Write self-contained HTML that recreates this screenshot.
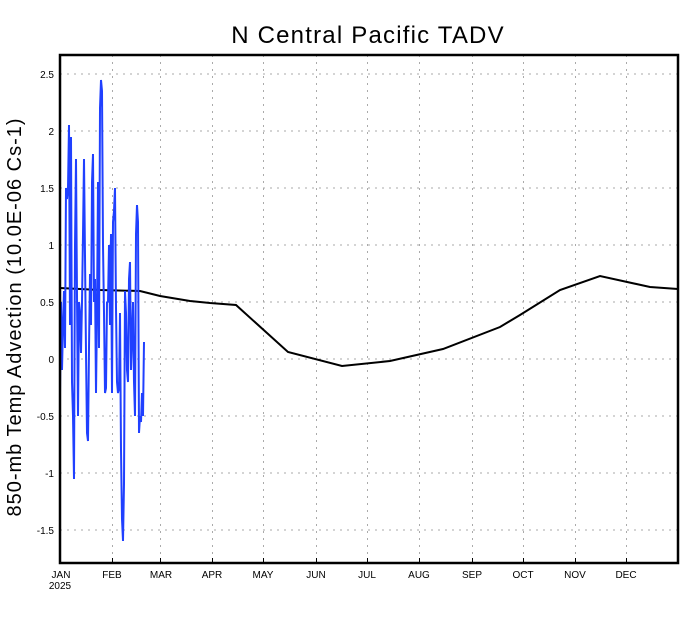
<!DOCTYPE html>
<html><head><meta charset="utf-8"><style>
body{margin:0;background:#fff;}
svg{display:block;font-family:"Liberation Sans","DejaVu Sans",sans-serif;}
</style></head><body>
<svg width="690" height="618" viewBox="0 0 690 618" xmlns="http://www.w3.org/2000/svg">
<rect width="690" height="618" fill="#fff"/>
<g stroke="#aaa" stroke-width="1" stroke-dasharray="2,5">
<line x1="60" y1="74" x2="678" y2="74"/><line x1="60" y1="131" x2="678" y2="131"/>
<line x1="60" y1="188" x2="678" y2="188"/><line x1="60" y1="245" x2="678" y2="245"/>
<line x1="60" y1="302" x2="678" y2="302"/><line x1="60" y1="359" x2="678" y2="359"/>
<line x1="60" y1="416" x2="678" y2="416"/><line x1="60" y1="473" x2="678" y2="473"/>
<line x1="60" y1="530" x2="678" y2="530"/>
<line x1="112.5" y1="55" x2="112.5" y2="563"/><line x1="160.5" y1="55" x2="160.5" y2="563"/>
<line x1="212.5" y1="55" x2="212.5" y2="563"/><line x1="263.5" y1="55" x2="263.5" y2="563"/>
<line x1="316.5" y1="55" x2="316.5" y2="563"/><line x1="367.5" y1="55" x2="367.5" y2="563"/>
<line x1="419.5" y1="55" x2="419.5" y2="563"/><line x1="472.5" y1="55" x2="472.5" y2="563"/>
<line x1="523.5" y1="55" x2="523.5" y2="563"/><line x1="575.5" y1="55" x2="575.5" y2="563"/>
<line x1="626.5" y1="55" x2="626.5" y2="563"/>
</g>
<polyline fill="none" stroke="#000" stroke-width="2" points="60,288 100,290 140,291 160,296 190,301 210,303 236,305 288,352 342,366 390,361 443,349 500,327 520,315 560,290 600,276 650,287 678,289"/>
<polyline fill="none" stroke="#2040ff" stroke-width="2" stroke-linejoin="bevel" points="60,393 61,302 62,370 63,325 64,291 65,348 66,188 67,199 68,188 69,125 70,325 71,137 72,382 73,416 74,479 75,245 76,159 77,296 78,416 79,302 80,313 81,353 82,302 83,234 84,159 85,256 86,353 87,433 88,441 89,348 90,274 91,325 92,182 93,154 94,302 95,279 96,393 97,313 98,182 99,348 100,108 101,80 102,91 103,245 104,313 105,393 106,388 107,302 108,302 109,245 110,325 111,234 112,393 113,222 114,211 115,188 116,308 117,382 118,393 119,388 120,313 121,450 122,519 123,541 124,484 125,291 126,313 127,370 128,382 129,279 130,262 131,370 132,336 133,302 134,382 135,416 136,234 137,205 138,222 139,433 140,416 141,422 142,393 143,416 144,342"/>
<rect x="60" y="55" width="618" height="508" fill="none" stroke="#000" stroke-width="2.5"/>
<g stroke="#000" stroke-width="1">
<line x1="112.5" y1="563" x2="112.5" y2="558"/><line x1="160.5" y1="563" x2="160.5" y2="558"/>
<line x1="212.5" y1="563" x2="212.5" y2="558"/><line x1="263.5" y1="563" x2="263.5" y2="558"/>
<line x1="316.5" y1="563" x2="316.5" y2="558"/><line x1="367.5" y1="563" x2="367.5" y2="558"/>
<line x1="419.5" y1="563" x2="419.5" y2="558"/><line x1="472.5" y1="563" x2="472.5" y2="558"/>
<line x1="523.5" y1="563" x2="523.5" y2="558"/><line x1="575.5" y1="563" x2="575.5" y2="558"/>
<line x1="626.5" y1="563" x2="626.5" y2="558"/>
</g>
<g font-size="10" text-anchor="end" fill="#000">
<text x="54" y="78">2.5</text><text x="54" y="135">2</text><text x="54" y="192">1.5</text>
<text x="54" y="249">1</text><text x="54" y="306">0.5</text><text x="54" y="363">0</text>
<text x="54" y="420">-0.5</text><text x="54" y="477">-1</text><text x="54" y="534">-1.5</text>
</g>
<g font-size="10" text-anchor="middle" fill="#000">
<text x="61" y="578">JAN</text><text x="60" y="589">2025</text>
<text x="112" y="578">FEB</text><text x="161" y="578">MAR</text><text x="212" y="578">APR</text>
<text x="263" y="578">MAY</text><text x="316" y="578">JUN</text><text x="367" y="578">JUL</text>
<text x="419" y="578">AUG</text><text x="472" y="578">SEP</text><text x="523" y="578">OCT</text>
<text x="575" y="578">NOV</text><text x="626" y="578">DEC</text>
</g>
<text x="368" y="43" font-size="24" letter-spacing="1.2" text-anchor="middle" fill="#000">N Central Pacific TADV</text>
<text transform="translate(21,317) rotate(-90)" font-size="20" letter-spacing="1" text-anchor="middle" fill="#000">850-mb Temp Advection (10.0E-06 Cs-1)</text>
</svg>
</body></html>
